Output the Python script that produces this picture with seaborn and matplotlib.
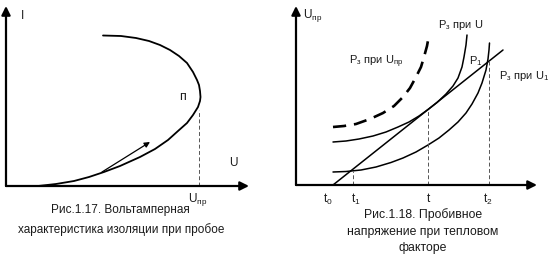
import matplotlib
matplotlib.use("Agg")
import matplotlib.pyplot as plt
import seaborn as sns

# ---------------- data (arbitrary diagram units) ----------------
# Fig 1.17: current-voltage characteristic
vac_u = [32, 50, 68, 83, 98, 114, 134, 149, 162, 172, 181, 187, 192, 194, 194.5,
         194, 193, 191, 187, 181, 173, 164, 154, 143, 130, 115, 97]
vac_i = [0, 2, 5, 9, 14, 20, 29, 37, 46, 55, 63, 71, 79, 85, 89,
         95, 101, 106, 114, 123, 130, 136, 141, 145, 148, 150, 150.5]
arrow_u = [96, 144]
arrow_i = [14, 44]
u_br = 193          # U_пр position
i_br = 76           # top of dashed drop

# Fig 1.18: breakdown voltage with thermal factor
line_t = [37, 207]
line_p = [0, 135]
low_t = [37, 50, 65, 80, 95, 107, 120, 132, 143, 153, 162, 170, 176, 182, 186, 190, 192, 193, 193.5]
low_p = [13, 13.5, 15, 18, 22.5, 27, 33, 40, 47, 55, 63, 72, 81, 92, 102, 115, 126, 135, 142]
mid_t = [37, 50, 63, 77, 90, 102, 113, 123, 132, 141, 150, 157, 162, 166, 168, 170, 171]
mid_p = [43, 44, 46, 49, 53, 58, 63, 69, 75.5, 82.5, 91, 99, 107, 118, 128, 140, 150]
dash_t = [37, 48, 60, 74, 87, 98, 107, 114, 120, 125, 128, 131, 133]
dash_p = [58, 59, 61, 66, 72, 79, 88, 97, 108, 118, 128, 139, 150]
tick_pos = [32, 60, 132, 192]
tick_lbl = ["t$_\\mathregular{0}$", "t$_\\mathregular{1}$", "t", "t$_\\mathregular{2}$"]
drop_t = [57, 132, 193]
drop_p = [14, 75, 124]

cap1 = ["Рис.1.17. Вольтамперная", "характеристика изоляции при пробое"]
cap2 = ["Рис.1.18. Пробивное", "напряжение при тепловом", "факторе"]

# ---------------- figure ----------------
sns.set_theme(style="white")
plt.rcParams["font.family"] = ["Liberation Sans", "DejaVu Sans"]
plt.rcParams["mathtext.default"] = "regular"

W, H = 552, 258
fig = plt.figure(figsize=(W / 100, H / 100), dpi=100)
fig.patch.set_facecolor("white")

def make_ax(x0, y0, w, h):
    ax = fig.add_axes([x0 / W, (H - y0) / H, w / W, h / H])
    ax.set_xlim(0, w)
    ax.set_ylim(0, h)
    ax.axis("off")
    return ax

def axis_arrows(ax, xlen, ylen):
    kw = dict(arrowstyle="-|>", lw=1.6, color="black", mutation_scale=13,
              shrinkA=0, shrinkB=0)
    ax.annotate("", xy=(xlen, 0), xytext=(0, 0), arrowprops=kw, annotation_clip=False)
    ax.annotate("", xy=(0, ylen), xytext=(0, 0), arrowprops=kw, annotation_clip=False)

TXT = "#1a1a1a"

# ----- left panel -----
axL = make_ax(6, 186, 244, 182)
axis_arrows(axL, 243, 180)
sns.lineplot(x=vac_u, y=vac_i, sort=False, estimator=None, ax=axL,
             color="black", lw=1.3)
axL.annotate("", xy=(arrow_u[1], arrow_i[1]), xytext=(arrow_u[0], arrow_i[0]),
             arrowprops=dict(arrowstyle="-|>", lw=0.9, color="black",
                             mutation_scale=8, shrinkA=0, shrinkB=0))
axL.plot([u_br, u_br], [0, i_br], color="#555555", lw=0.7, ls=(0, (4, 2.5)))
axL.text(16, 170, "I", fontsize=8.5, color=TXT, ha="center", va="center")
axL.text(227, 23, "U", fontsize=8.5, color=TXT, ha="center", va="center")
axL.text(176, 89, "п", fontsize=9, color=TXT, ha="center", va="center")
axL.text(192, -14, "U$_{пр}$", fontsize=8.5, color=TXT, ha="center", va="center")
axL.text(114, -24, cap1[0], fontsize=8.5, color=TXT, ha="center", va="center")
axL.text(115, -44, cap1[1], fontsize=8.5, color=TXT, ha="center", va="center")

# ----- right panel -----
axR = make_ax(296, 185, 244, 181)
axis_arrows(axR, 241, 179)
sns.lineplot(x=line_t, y=line_p, sort=False, estimator=None, ax=axR,
             color="black", lw=1.1)
sns.lineplot(x=low_t, y=low_p, sort=False, estimator=None, ax=axR,
             color="black", lw=1.1)
sns.lineplot(x=mid_t, y=mid_p, sort=False, estimator=None, ax=axR,
             color="black", lw=1.1)
sns.lineplot(x=dash_t, y=dash_p, sort=False, estimator=None, ax=axR,
             color="black", lw=1.9, linestyle=(0, (5, 3)))
for t, p in zip(drop_t, drop_p):
    axR.plot([t, t], [0, p], color="#555555", lw=0.7, ls=(0, (4, 2.5)))
for t, lbl in zip(tick_pos, tick_lbl):
    axR.text(t, -14, lbl, fontsize=8.5, color=TXT, ha="center", va="center")
axR.text(17, 170, "U$_{пр}$", fontsize=8.5, color=TXT, ha="center", va="center")
axR.text(165, 160, "P$_з$ при U", fontsize=8, color=TXT, ha="center", va="center")
axR.text(80, 123, "P$_з$ при U$_{пр}$", fontsize=8, color=TXT, ha="center", va="center")
axR.text(180, 124, "P$_1$", fontsize=8, color=TXT, ha="center", va="center")
axR.text(228, 109, "P$_з$ при U$_1$", fontsize=8, color=TXT, ha="center", va="center")
axR.text(127, -30, cap2[0], fontsize=8.8, color=TXT, ha="center", va="center")
axR.text(127, -47, cap2[1], fontsize=8.8, color=TXT, ha="center", va="center")
axR.text(127, -63, cap2[2], fontsize=8.8, color=TXT, ha="center", va="center")

fig.savefig("out.png", dpi=100, facecolor="white")
